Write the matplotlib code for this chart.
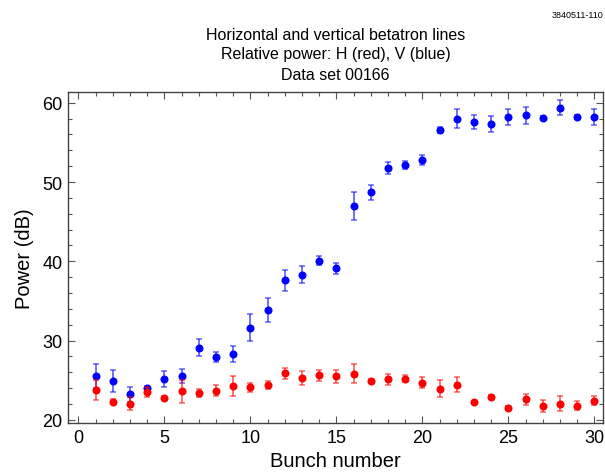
import matplotlib
matplotlib.use("Agg")
import matplotlib.pyplot as plt
from matplotlib.ticker import MultipleLocator

plt.rcParams['font.family'] = ['Liberation Sans', 'DejaVu Sans']

bunch = list(range(1, 31))

# vertical (blue) relative power and errors, dB
v_power = [25.5, 24.9, 23.2, 24.0, 25.1, 25.5, 29.1, 27.9, 28.3, 31.6,
           33.9, 37.6, 38.3, 40.1, 39.1, 47.0, 48.7, 51.8, 52.2, 52.8,
           56.6, 58.0, 57.6, 57.35, 58.2, 58.4, 58.1, 59.4, 58.2, 58.2]
v_err = [1.5, 1.35, 1.0, 0.3, 1.0, 0.9, 1.05, 0.6, 1.0, 1.7,
         1.5, 1.3, 1.05, 0.6, 0.7, 1.76, 0.95, 0.78, 0.5, 0.6,
         0.35, 1.2, 0.85, 1.0, 1.0, 1.05, 0.2, 0.9, 0.3, 1.0]

# horizontal (red) relative power and errors, dB
h_power = [23.8, 22.3, 22.05, 23.5, 22.8, 23.6, 23.4, 23.7, 24.25, 24.1,
           24.4, 25.9, 25.3, 25.6, 25.5, 25.8, 24.9, 25.1, 25.2, 24.7,
           23.95, 24.4, 22.2, 22.9, 21.55, 22.6, 21.8, 22.05, 21.8, 22.4]
h_err = [1.25, 0.3, 0.85, 0.6, 0.2, 1.45, 0.5, 0.7, 1.3, 0.55,
         0.45, 0.7, 0.85, 0.7, 0.8, 1.2, 0.2, 0.7, 0.45, 0.7,
         1.1, 0.95, 0.2, 0.2, 0.2, 0.7, 0.75, 0.95, 0.6, 0.55]

title_lines = ["Horizontal and vertical betatron lines",
               "Relative power: H (red), V (blue)",
               "Data set 00166"]

fig = plt.figure(figsize=(6.05, 4.77), dpi=100)
ax = fig.add_axes([0.1124, 0.1111, 0.8843, 0.6946])

for y, e, c in [(v_power, v_err, (0, 0, 1)), (h_power, h_err, (1, 0, 0))]:
    ax.errorbar(bunch, y, yerr=e, fmt='none', ecolor=c, alpha=0.6,
                elinewidth=1.3, capsize=2.5, capthick=1.1)
    ax.plot(bunch, y, 'o', color=c, markersize=5.8, markeredgewidth=0)

ax.set_xlim(-0.6, 30.5)
ax.set_ylim(19.6, 61.4)
ax.xaxis.set_major_locator(MultipleLocator(5))
ax.xaxis.set_minor_locator(MultipleLocator(1))
ax.yaxis.set_major_locator(MultipleLocator(10))
ax.yaxis.set_minor_locator(MultipleLocator(2))
ax.tick_params(which='both', direction='in', top=True, right=True,
               color='#555555', width=0.8)
ax.tick_params(which='major', length=5, labelsize=13, pad=4)
ax.tick_params(which='minor', length=3)
for s in ax.spines.values():
    s.set_color('#444444')
    s.set_linewidth(1.0)

ax.set_xlabel("Bunch number", fontsize=14.5, labelpad=4)
ax.set_ylabel("Power (dB)", fontsize=14.5, labelpad=6)

for i, line in enumerate(title_lines):
    fig.text(335.5 / 605, 1 - (35 + 20 * i) / 477, line, ha='center',
             va='center', fontsize=11.5)
fig.text(603 / 605, 1 - 15 / 477, "3840511-110", ha='right', va='center',
         fontsize=6.5)

fig.savefig("out.png", dpi=100)
